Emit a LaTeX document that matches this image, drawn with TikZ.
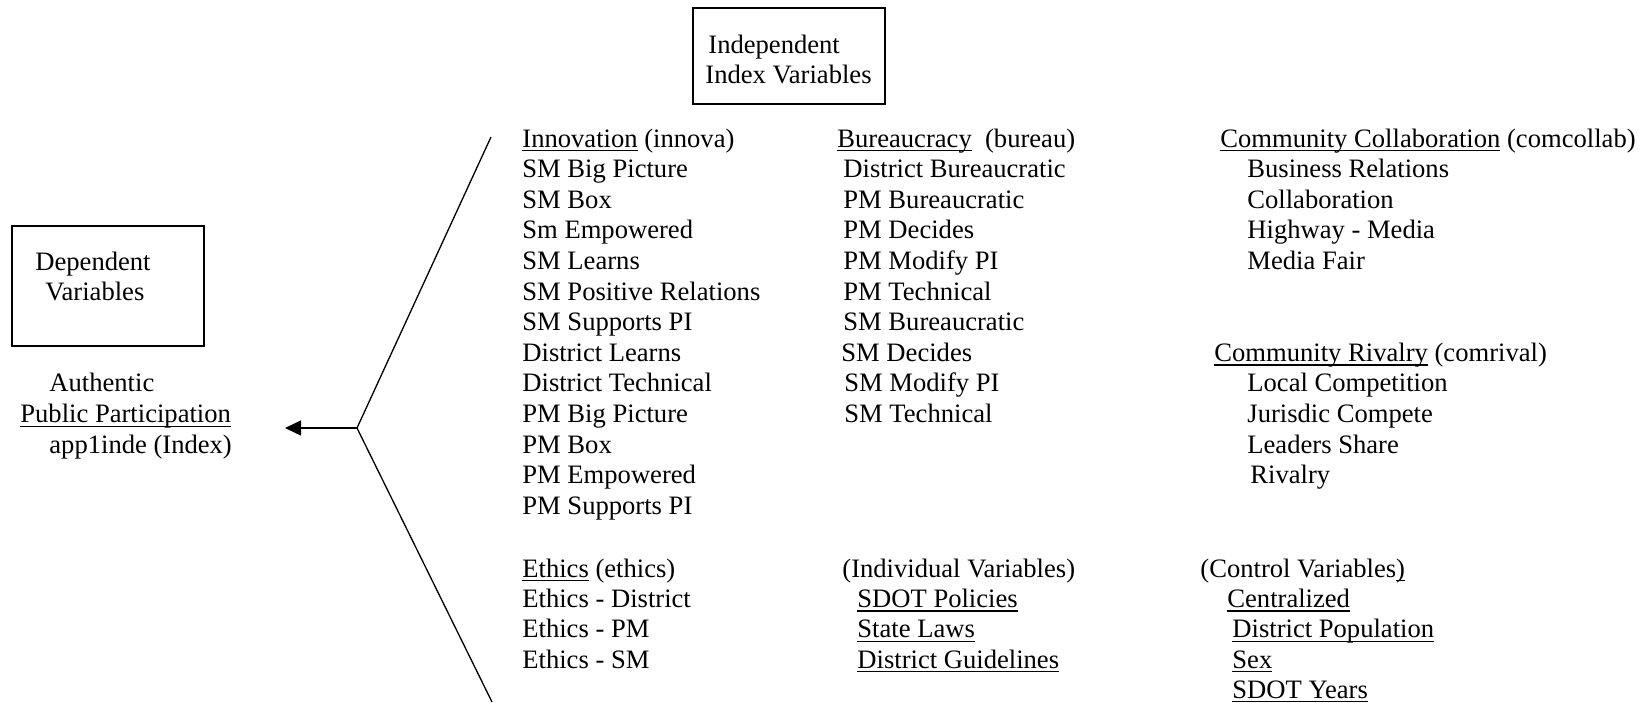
\documentclass[tikz,border=0pt]{standalone}
\usepackage{fontspec}
\setmainfont{Liberation Serif}
\usetikzlibrary{arrows.meta}
\newcommand{\ulx}[1]{\setbox0=\hbox{#1}\rlap{\rule[-2.2pt]{\wd0}{0.65pt}}\box0\relax}
\begin{document}
\begin{tikzpicture}[x=0.5pt,y=-0.5pt,
  txt/.style={anchor=base west, inner sep=0pt, font=\fontsize{13.3}{15.25}\selectfont},
  boxx/.style={draw, line width=0.9pt, anchor=north west, inner sep=0pt},
  link/.style={line width=0.65pt}]
\useasboundingbox (0,0) rectangle (1650,702);

% boxes
\node[boxx, minimum width=96pt, minimum height=48pt] (indep) at (692,7) {};
\node[txt] (indep1) at (708,53) {Independent};
\node[txt] (indep2) at (705,83) {Index Variables};

\node[boxx, minimum width=96pt, minimum height=60pt] (dep) at (11,225) {};
\node[txt] (dep1) at (35,270) {Dependent};
\node[txt] (dep2) at (45,300) {Variables};

% dependent variable
\node[txt] (app1) at (49,391.8) {Authentic};
\node[txt] (app2) at (20,422.4) {\ulx{Public Participation}};
\node[txt] (app3) at (49,453) {app1inde (Index)};

% fork and arrow
\coordinate (fork) at (357,428);
\coordinate (ftop) at (491,137);
\coordinate (fbot) at (492,702);
\coordinate (tip) at (285,428);
\draw[link] (ftop) -- (fork) -- (fbot);
\draw[link, -{Triangle[length=8pt,width=7.5pt]}] (fork) -- (tip);

% column 1: innovation
\node[txt] (in0) at (522,147) {\ulx{Innovation} (innova)};
\node[txt] (in1) at (522,177.6) {SM Big Picture};
\node[txt] (in2) at (522,208.2) {SM Box};
\node[txt] (in3) at (522,238.8) {Sm Empowered};
\node[txt] (in4) at (522,269.4) {SM Learns};
\node[txt] (in5) at (522,300) {SM Positive Relations};
\node[txt] (in6) at (522,330.6) {SM Supports PI};
\node[txt] (in7) at (522,361.2) {District Learns};
\node[txt] (in8) at (522,391.8) {District Technical};
\node[txt] (in9) at (522,422.4) {PM Big Picture};
\node[txt] (in10) at (522,453) {PM Box};
\node[txt] (in11) at (522,483.6) {PM Empowered};
\node[txt] (in12) at (522,514.2) {PM Supports PI};

% column 2: bureaucracy
\node[txt] (bu0) at (837,147) {\ulx{Bureaucracy}\ \ (bureau)};
\node[txt] (bu1) at (843,177.6) {District Bureaucratic};
\node[txt] (bu2) at (843,208.2) {PM Bureaucratic};
\node[txt] (bu3) at (843,238.8) {PM Decides};
\node[txt] (bu4) at (843,269.4) {PM Modify PI};
\node[txt] (bu5) at (843,300) {PM Technical};
\node[txt] (bu6) at (843,330.6) {SM Bureaucratic};
\node[txt] (bu7) at (841,361.2) {SM Decides};
\node[txt] (bu8) at (844,391.8) {SM Modify PI};
\node[txt] (bu9) at (844,422.4) {SM Technical};

% column 3: community
\node[txt] (cc0) at (1220,147) {\ulx{Community Collaboration} (comcollab)};
\node[txt] (cc1) at (1247,177.6) {Business Relations};
\node[txt] (cc2) at (1247,208.2) {Collaboration};
\node[txt] (cc3) at (1247,238.8) {Highway - Media};
\node[txt] (cc4) at (1247,269.4) {Media Fair};

\node[txt] (cr0) at (1214,361.2) {\ulx{Community Rivalry} (comrival)};
\node[txt] (cr1) at (1247,391.8) {Local Competition};
\node[txt] (cr2) at (1247,422.4) {Jurisdic Compete};
\node[txt] (cr3) at (1247,453) {Leaders Share};
\node[txt] (cr4) at (1250,483.6) {Rivalry};

% bottom groups
\node[txt] (et0) at (522,577) {\ulx{Ethics} (ethics)};
\node[txt] (et1) at (522,607.3) {Ethics - District};
\node[txt] (et2) at (522,637.6) {Ethics - PM};
\node[txt] (et3) at (522,668) {Ethics - SM};

\node[txt] (iv0) at (842,577) {(Individual Variables)};
\node[txt] (iv1) at (857,607.3) {\ulx{SDOT Policies}};
\node[txt] (iv2) at (857,637.6) {\ulx{State Laws}};
\node[txt] (iv3) at (857,668) {\ulx{District Guidelines}};

\node[txt] (cv0) at (1200,577) {(Control Variables\ulx{)}};
\node[txt] (cv1) at (1227,607.3) {\ulx{Centralized}};
\node[txt] (cv2) at (1232,637.6) {\ulx{District Population}};
\node[txt] (cv3) at (1232,668) {\ulx{Sex}};
\node[txt] (cv4) at (1232,698) {\ulx{SDOT Years}};
\end{tikzpicture}
\end{document}
